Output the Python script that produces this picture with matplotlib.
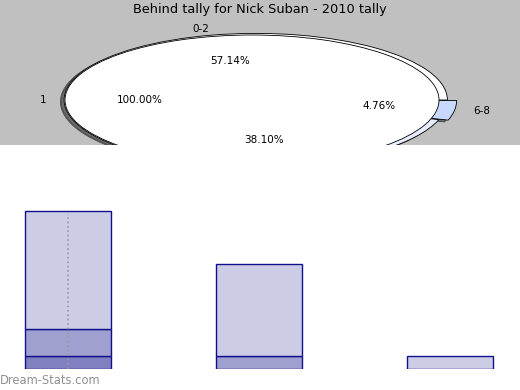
import matplotlib
matplotlib.use("Agg")
import matplotlib.pyplot as plt
import numpy as np

title = "Behind tally for Nick Suban - 2010 tally"

# pie data
inner_labels = ["1"]
inner_values = [1]
ring_labels = ["0-2", "3-5", "6-8"]
ring_values = [12, 8, 1]

# bar data: counts per tally inside each group
groups = ["0-2", "3-5", "6-8"]
layer1 = [1, 0, 0]
layer2 = [2, 1, 0]
layer3 = [9, 7, 1]
marker_value = 11.8

fig = plt.figure(figsize=(5.2, 3.9), dpi=100)

# top gray panel with the pies
ax = fig.add_axes([0, 1 - 145 / 390, 1, 145 / 390])
ax.set_facecolor("#c0c0c0")
wp = dict(edgecolor="black", linewidth=0.6)
shadow = dict(ox=-0.014, oy=-0.02, facecolor="#6e6e6e", alpha=1)
_, t1, a1 = ax.pie(ring_values, labels=ring_labels, autopct="%.2f%%",
                   colors=["white", "#e8eeff", "#c8d8ff"],
                   explode=[0, 0, 0.05], center=(0.02, 0.0), radius=1.025,
                   shadow=shadow, wedgeprops=wp, frame=True,
                   textprops=dict(fontsize=7.5))
_, t2, a2 = ax.pie(inner_values, labels=inner_labels, autopct="%.2f%%",
                   colors=["white"], shadow=shadow, wedgeprops=wp, frame=True,
                   textprops=dict(fontsize=7.5))
for t in list(t1) + list(a1) + list(t2) + list(a2):
    t.set_clip_on(True)
for p in ax.patches:
    p.set_clip_on(True)
    p.set_clip_path(ax.patch)
ax.set_aspect("auto")
ax.set_xlim(-252 / 187, 268 / 187)
ax.set_ylim(-45 / 65, 100 / 65)
ax.set_xticks([])
ax.set_yticks([])
for s in ax.spines.values():
    s.set_visible(False)

fig.text(0.499, 1 - 10 / 390, title, ha="center", va="center", fontsize=9.3)

# bottom bar chart
bx = fig.add_axes([0, 21 / 390, 1, 1 - 145 / 390 - 21 / 390])
x = np.arange(len(groups))
edge = "#10108c"
bx.bar(x, layer1, 0.45, color="#8080c0", edgecolor=edge, linewidth=1)
bx.bar(x, layer2, 0.45, bottom=layer1, color="#a0a0d0", edgecolor=edge, linewidth=1)
bot = np.array(layer1) + np.array(layer2)
bx.bar(x, layer3, 0.45, bottom=bot, color="#cccce6", edgecolor=edge, linewidth=1)
bx.vlines(x[0], 0, marker_value, colors="#999999", linestyles=":", linewidth=1.2)
bx.set_xlim(-68 / 191, 452 / 191)
bx.set_ylim(0, 17)
bx.axis("off")

fig.text(0.0, 10 / 390, "Dream-Stats.com", ha="left", va="center",
         fontsize=8.3, color="#909090")

fig.savefig("out.png", dpi=100)
